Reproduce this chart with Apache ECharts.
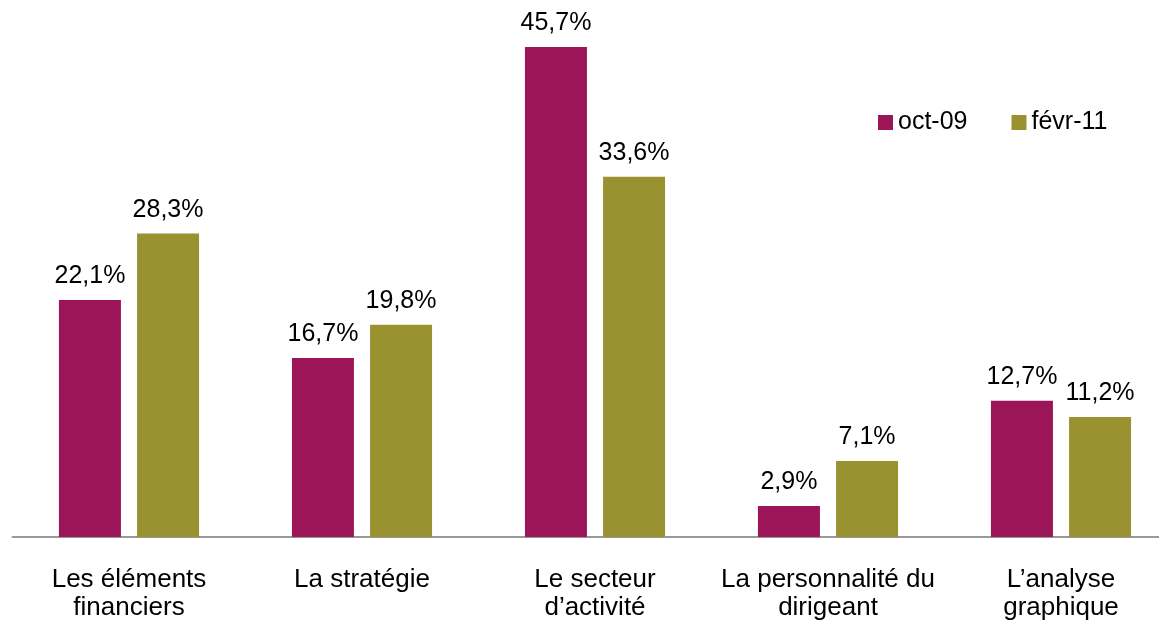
<!DOCTYPE html>
<html>
<head>
<meta charset="utf-8">
<script src="https://cdn.jsdelivr.net/npm/echarts@6/dist/echarts.min.js"></script>
<style>
  html, body { margin: 0; padding: 0; background: #fff; }
  #chart { width: 1159px; height: 624px; }
</style>
</head>
<body>
<div id="chart"></div>
<script>
  const categories = ['Les éléments\nfinanciers', 'La stratégie', 'Le secteur\nd\u2019activité', 'La personnalité du\ndirigeant', 'L\u2019analyse\ngraphique'];
  const oct09 = [22.1, 16.7, 45.7, 2.9, 12.7];
  const fevr11 = [28.3, 19.8, 33.6, 7.1, 11.2];

  const chart = echarts.init(document.getElementById('chart'));
  const labelFmt = p => p.value.toFixed(1).replace('.', ',') + '%';
  const font = 'Liberation Sans, Arial, sans-serif';

  const option = {
    animation: false,
    textStyle: { fontFamily: font },
    legend: {
      top: 105,
      left: 873,
      itemWidth: 15,
      itemHeight: 15,
      itemGap: 44,
      icon: 'rect',
      textStyle: { fontSize: 25, color: '#000', fontFamily: font },
      data: ['oct-09', 'févr-11']
    },
    grid: { left: 12.5, width: 1165, top: 1, height: 536, containLabel: false, outerBoundsMode: 'none' },
    xAxis: {
      type: 'category',
      data: categories,
      axisLine: { lineStyle: { color: '#999', width: 2 } },
      axisTick: { show: false },
      axisLabel: { fontSize: 26, color: '#000', margin: 29, lineHeight: 28, fontFamily: font, interval: 0 }
    },
    yAxis: {
      type: 'value',
      min: 0,
      max: 50,
      show: false,
      splitLine: { show: false }
    },
    series: [
      {
        name: 'oct-09',
        type: 'bar',
        data: oct09,
        barWidth: 62,
        barGap: '26%',
        itemStyle: { color: '#9B1558' },
        label: { show: true, position: 'top', distance: 11, fontSize: 25, color: '#000', fontFamily: font, formatter: labelFmt }
      },
      {
        name: 'févr-11',
        type: 'bar',
        data: fevr11,
        barWidth: 62,
        itemStyle: { color: '#9A9130' },
        label: { show: true, position: 'top', distance: 11, fontSize: 25, color: '#000', fontFamily: font, formatter: labelFmt }
      }
    ]
  };
  chart.setOption(option);
</script>
</body>
</html>
